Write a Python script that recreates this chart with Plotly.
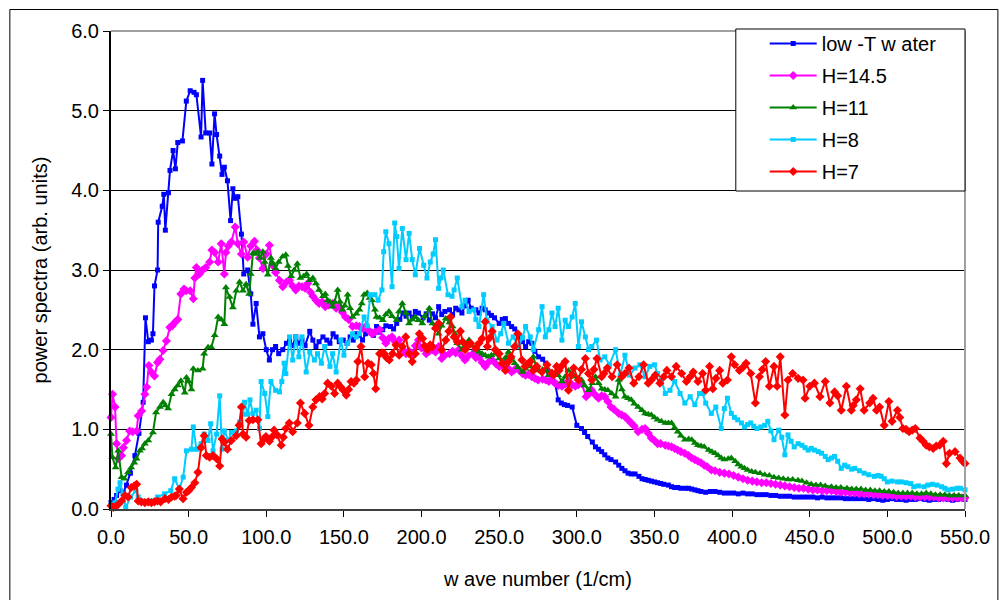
import plotly.graph_objects as go

# Power spectra vs wave number, (wave number [1/cm], power [arb. units]) pairs
low_t_water = [
    (0, 0.08), (2, 0.12), (3.6, 0.17), (5.8, 0.23), (8, 0.2), (10, 0.3), (12.5, 0.45), (15.4, 0.67),
    (18, 0.95), (20.7, 1.34), (22.2, 2.4), (24, 2.1), (26, 2.12), (27, 2.2), (28, 2.8), (30, 3.0),
    (30.4, 3.6), (33, 3.8), (34, 3.95), (35, 3.5), (37, 3.97), (38, 4.25), (40, 4.5), (41.5, 4.27),
    (43, 4.6), (46, 4.62), (48.5, 5.12), (51, 5.25), (53.5, 5.23), (55, 5.2), (58, 4.67), (59, 5.38),
    (61, 4.72), (63.5, 4.72), (65, 4.33), (66.7, 4.96), (68, 4.7), (70, 4.43), (71.5, 4.2), (73, 4.29),
    (75, 4.12), (77, 3.62), (78.5, 4.02), (80, 3.9), (81.7, 3.92), (84, 3.45), (85.5, 2.95), (88, 3.0),
    (90, 2.7), (91.4, 2.32), (93.5, 2.58), (95.6, 2.16), (97.8, 2.2), (100, 2.0), (102, 1.87), (104, 2.0),
    (106, 2.04), (108, 1.95), (110.6, 2.0), (113, 2.08), (115, 2.12), (117, 2.05), (119, 2.16), (121, 2.08),
    (123, 2.12), (125, 2.05), (128, 2.23), (130, 2.12), (132, 2.04), (134, 2.1), (136.5, 2.16), (139, 2.12),
    (141, 2.08), (143, 2.2), (145, 2.16), (147, 2.1), (149.6, 2.12), (152, 2.08), (154, 2.16), (156, 2.12),
    (158, 2.2), (160, 2.18), (162, 2.12), (164, 2.2), (167, 2.23), (169, 2.18), (171, 2.29), (173, 2.22),
    (175, 2.25), (177, 2.3), (180, 2.29), (182, 2.26), (184, 2.33), (186, 2.38), (188, 2.46), (190, 2.42),
    (192, 2.46), (194, 2.4), (196, 2.48), (198, 2.46), (201, 2.4), (203, 2.45), (205, 2.37), (207, 2.45),
    (209, 2.4), (211, 2.54), (213, 2.44), (215, 2.48), (218, 2.5), (220, 2.44), (222, 2.52), (224, 2.5),
    (226, 2.46), (228, 2.55), (230, 2.62), (232, 2.52), (235, 2.5), (237, 2.46), (239, 2.52), (241, 2.5),
    (243, 2.46), (245, 2.43), (247, 2.4), (250, 2.33), (252, 2.38), (254, 2.39), (256, 2.33), (258, 2.29),
    (260, 2.26), (263, 2.16), (265, 2.1), (267, 2.04), (269, 2.1), (271, 2.08), (273, 1.98), (275.4, 1.91),
    (278, 1.88), (280, 1.83), (282, 1.7), (284, 1.62), (286, 1.58), (288, 1.37), (290, 1.33), (292, 1.31),
    (294, 1.3), (297, 1.28), (300, 1.05), (303, 1.01), (305, 0.96), (307, 0.91), (310, 0.84), (312, 0.78),
    (314, 0.75), (316, 0.72), (318, 0.68), (320, 0.64), (322, 0.62), (325, 0.59), (327, 0.55), (329, 0.51),
    (331, 0.48), (333, 0.45), (335, 0.44), (337.5, 0.44), (340, 0.41), (342, 0.38), (344, 0.37), (346, 0.36),
    (348, 0.35), (350, 0.34), (352, 0.33), (354, 0.32), (356, 0.31), (359, 0.3), (361, 0.28), (363, 0.27),
    (365, 0.27), (367, 0.26), (370, 0.26), (372, 0.26), (374, 0.25), (376, 0.24), (378, 0.23), (380, 0.22),
    (383, 0.21), (386, 0.22), (389, 0.22), (392, 0.21), (395, 0.2), (398, 0.2), (401, 0.2), (404, 0.19),
    (407, 0.2), (410, 0.19), (413, 0.19), (416, 0.18), (419, 0.18), (422, 0.18), (425, 0.17), (428, 0.17),
    (431, 0.16), (434, 0.16), (437, 0.16), (440, 0.15), (443, 0.15), (446, 0.15), (449, 0.15), (452, 0.15),
    (455, 0.14), (458, 0.15), (461, 0.14), (464, 0.14), (467, 0.14), (470, 0.14), (473, 0.13), (476, 0.13),
    (479, 0.13), (482, 0.13), (485, 0.13), (488, 0.12), (491, 0.13), (494, 0.12), (497, 0.11), (500, 0.12),
    (503, 0.13), (506, 0.12), (509, 0.12), (512, 0.11), (515, 0.12), (518, 0.12), (521, 0.13), (524, 0.12),
    (527, 0.11), (530, 0.12), (533, 0.12), (536, 0.13), (539, 0.12), (542, 0.11), (545, 0.12), (548, 0.13),
    (550, 0.12),
]

h_14_5 = [
    (0, 1.15), (1, 1.44), (2.6, 1.28), (3.6, 0.82), (4.7, 0.63), (6.8, 0.67), (8, 0.77), (10, 0.86),
    (12, 0.98), (14, 0.97), (16.5, 0.98), (17.5, 1.17), (19.7, 1.23), (21.8, 1.44), (23, 1.53), (24.4, 1.8),
    (26, 1.72), (28, 1.67), (30, 1.84), (31.5, 1.88), (33.6, 1.99), (35.7, 2.11), (37.9, 2.28), (39.5, 2.3),
    (41, 2.34), (43, 2.38), (45, 2.7), (47, 2.76), (48.5, 2.74), (51, 2.74), (53, 2.64), (54, 2.9),
    (55, 3.03), (57, 2.95), (59, 3.0), (61, 3.03), (63.5, 3.1), (65, 3.25), (66.8, 3.22), (69, 3.1),
    (71, 3.33), (73, 2.95), (74, 3.22), (75.5, 3.3), (77.5, 3.35), (80, 3.54), (81.7, 3.33), (84, 3.2),
    (85.5, 3.35), (88, 3.16), (90, 3.3), (92.4, 3.36), (94, 3.25), (95.6, 3.15), (97.8, 3.02), (100, 3.2),
    (102, 3.31), (104, 3.06), (106, 2.97), (108.5, 2.87), (110.6, 2.79), (113, 2.85), (115, 2.87), (117, 2.8),
    (119, 2.75), (121, 2.8), (123, 2.79), (125, 2.77), (126.7, 2.83), (128.5, 2.72), (130, 2.67), (132, 2.62),
    (134, 2.58), (136, 2.6), (138, 2.54), (140, 2.56), (142.7, 2.58), (145, 2.52), (147, 2.54), (149, 2.47),
    (151, 2.41), (153, 2.38), (155.6, 2.29), (158, 2.3), (160, 2.29), (162, 2.27), (164, 2.29), (166, 2.24),
    (168, 2.2), (170, 2.22), (173, 2.25), (175, 2.15), (177, 2.08), (179, 2.14), (181, 2.16), (183, 2.1),
    (185.5, 2.12), (188, 2.0), (190, 1.95), (192, 1.98), (194, 1.95), (196, 2.05), (198, 2.12), (200, 2.02),
    (203, 1.95), (205, 1.98), (207, 2.0), (209, 1.97), (211, 2.04), (213, 1.89), (215, 1.93), (218, 1.95),
    (220, 1.98), (222, 1.96), (224, 2.0), (226, 1.92), (228, 1.87), (230, 1.92), (233, 1.95), (235, 1.9),
    (237, 1.91), (239, 1.84), (241, 1.79), (243, 1.84), (245.5, 1.87), (248, 1.82), (250, 1.79), (252, 1.8),
    (254, 1.83), (256, 1.76), (258, 1.72), (260, 1.75), (263, 1.74), (265, 1.7), (267, 1.68), (269, 1.69),
    (271, 1.66), (273, 1.64), (275, 1.62), (278, 1.63), (280, 1.62), (282, 1.6), (284, 1.62), (286, 1.58),
    (288, 1.55), (290.4, 1.54), (292.5, 1.57), (294.6, 1.6), (297, 1.56), (299, 1.54), (301, 1.56), (303, 1.58),
    (306, 1.41), (308, 1.45), (309.6, 1.49), (312, 1.43), (314, 1.39), (316, 1.42), (318, 1.41), (320, 1.35),
    (322, 1.28), (324, 1.25), (327, 1.2), (329, 1.18), (331, 1.16), (333, 1.12), (335, 1.08), (337, 1.04),
    (339.5, 0.97), (342, 1.0), (344, 1.01), (346, 0.95), (348, 0.89), (350, 0.86), (352, 0.82), (354, 0.82),
    (357, 0.8), (359, 0.79), (361, 0.78), (363, 0.76), (365, 0.74), (367, 0.72), (369.5, 0.7), (372, 0.67),
    (374, 0.64), (376, 0.62), (378, 0.6), (380, 0.58), (382, 0.55), (384, 0.53), (386.6, 0.49), (389, 0.48),
    (392, 0.46), (395, 0.45), (398, 0.44), (401, 0.42), (404, 0.4), (407, 0.38), (410, 0.36), (413, 0.35),
    (416, 0.34), (419, 0.33), (422, 0.33), (425, 0.32), (428, 0.31), (431, 0.3), (434, 0.29), (437, 0.28),
    (440, 0.27), (443, 0.26), (446, 0.26), (449, 0.25), (452, 0.24), (455, 0.24), (458, 0.23), (461, 0.23),
    (464, 0.23), (467, 0.22), (470, 0.21), (473, 0.21), (476, 0.2), (479, 0.2), (482, 0.19), (485, 0.19),
    (488, 0.19), (491, 0.18), (494, 0.18), (497, 0.17), (500, 0.17), (503, 0.17), (506, 0.16), (509, 0.16),
    (512, 0.16), (515, 0.16), (518, 0.15), (521, 0.15), (524, 0.15), (527, 0.15), (530, 0.15), (533, 0.14),
    (536, 0.14), (539, 0.14), (542, 0.14), (545, 0.14), (548, 0.14), (550, 0.14),
]

h_11 = [
    (0, 0.94), (0.9, 0.65), (3, 0.52), (4.7, 0.73), (6.8, 0.4), (8.5, 0.38), (11, 0.46), (13, 0.52),
    (15, 0.58), (16.5, 0.63), (18.6, 0.73), (20, 0.76), (21.8, 0.82), (24, 0.86), (27, 0.96), (29, 1.21),
    (31.5, 1.28), (33.6, 1.34), (35, 1.3), (36.8, 1.26), (39, 1.44), (41, 1.5), (43, 1.55), (45, 1.61),
    (47.5, 1.46), (48.6, 1.65), (50, 1.6), (51.8, 1.5), (53, 1.76), (56, 1.74), (59, 1.76), (60, 1.95),
    (62.5, 2.03), (64.6, 2.03), (66.8, 2.18), (69, 2.41), (71, 2.38), (73, 2.32), (74, 2.78), (76.4, 2.66),
    (78.5, 2.53), (80.7, 2.74), (82.8, 2.85), (85, 2.74), (87, 2.82), (89, 2.7), (90, 2.95), (91.4, 3.21),
    (92.5, 3.2), (94.6, 3.23), (96, 3.15), (97.8, 3.23), (99, 3.1), (101, 2.94), (103, 3.15), (104.5, 3.08),
    (106, 3.02), (108, 3.1), (110.6, 3.17), (112.6, 3.19), (114, 3.05), (116, 2.92), (118, 3.0), (120, 3.08),
    (122, 2.9), (124, 2.92), (126, 2.95), (128, 2.87), (130, 2.9), (132, 2.83), (134, 2.75), (136.5, 2.67),
    (138, 2.7), (139.5, 2.62), (141, 2.6), (142.7, 2.54), (144, 2.6), (146, 2.75), (147.5, 2.6), (149, 2.5),
    (150.5, 2.55), (152.4, 2.69), (154, 2.52), (155.6, 2.41), (158, 2.45), (160, 2.5), (161.5, 2.58), (163, 2.69),
    (165, 2.71), (166.5, 2.65), (168, 2.62), (170, 2.5), (171, 2.41), (173, 2.4), (175, 2.37), (177, 2.44),
    (179, 2.48), (181, 2.42), (184, 2.37), (185.5, 2.48), (187.6, 2.58), (190, 2.46), (192, 2.33), (194, 2.38),
    (196, 2.41), (198, 2.37), (200.5, 2.33), (202, 2.42), (205, 2.52), (207, 2.33), (209, 2.27), (211, 2.2),
    (213, 2.3), (215.6, 2.39), (218, 2.34), (220, 2.29), (221.5, 2.2), (223, 2.08), (226, 2.0), (228, 2.06),
    (230.6, 2.12), (233, 2.05), (235, 2.0), (237, 1.97), (239, 1.95), (241, 1.93), (243, 1.91), (245, 1.93),
    (247.5, 1.95), (250, 1.89), (252, 1.83), (254, 1.9), (256, 1.97), (258, 1.9), (260, 1.83), (262, 1.78),
    (265, 1.72), (267, 1.76), (269, 1.79), (272, 1.91), (273.7, 1.8), (275.4, 1.74), (278, 1.75), (280, 1.74),
    (282, 1.68), (284, 1.72), (286, 1.7), (288, 1.68), (290.4, 1.6), (292.5, 1.66), (294.6, 1.74), (297, 1.7),
    (299, 1.66), (301, 1.64), (303, 1.62), (305, 1.55), (307.6, 1.49), (310, 1.58), (312, 1.66), (314, 1.58),
    (316, 1.51), (318, 1.5), (320, 1.49), (322.5, 1.45), (325, 1.41), (327, 1.62), (329, 1.5), (331, 1.41),
    (333, 1.39), (335, 1.37), (337, 1.32), (339.5, 1.28), (342, 1.24), (344, 1.2), (346, 1.19), (348, 1.18),
    (350, 1.15), (352, 1.12), (354.5, 1.1), (357, 1.08), (359, 1.08), (361, 1.08), (363, 1.02), (365, 0.97),
    (367, 0.92), (369.6, 0.87), (372, 0.88), (374, 0.87), (376, 0.83), (378, 0.8), (380, 0.79), (382, 0.78),
    (385, 0.74), (387, 0.72), (389, 0.7), (391, 0.67), (393, 0.64), (395, 0.62), (397.5, 0.63), (399.5, 0.64),
    (402, 0.6), (404, 0.56), (406, 0.53), (408, 0.51), (410, 0.49), (412.6, 0.47), (415, 0.46), (418, 0.45),
    (421, 0.43), (424, 0.42), (427, 0.4), (430, 0.39), (433, 0.38), (436, 0.37), (439, 0.37), (442.5, 0.36),
    (445, 0.35), (448, 0.33), (451, 0.31), (454, 0.3), (457, 0.3), (460, 0.29), (464, 0.28), (467, 0.27),
    (470, 0.27), (474, 0.26), (477, 0.25), (480, 0.25), (483, 0.25), (486, 0.24), (489, 0.24), (492, 0.23),
    (495, 0.23), (498, 0.22), (501, 0.22), (504, 0.21), (507, 0.2), (510, 0.2), (513, 0.2), (516, 0.2),
    (519, 0.19), (522, 0.19), (525, 0.2), (528, 0.19), (531, 0.18), (534, 0.18), (537, 0.18), (540, 0.17),
    (543, 0.17), (546, 0.17), (550, 0.17),
]

h_8 = [
    (0, 0.06), (2.6, 0.08), (4.5, 0.25), (5.8, 0.33), (7.7, 0.19), (9.5, 0.02), (12.6, 0.15), (16, 0.23),
    (17.5, 0.15), (20.7, 0.1), (25, 0.1), (30, 0.15), (34.5, 0.19), (38.5, 0.23), (41, 0.38), (44, 0.25),
    (46.5, 0.4), (48.6, 0.73), (51.8, 0.75), (53, 1.03), (55, 0.75), (58, 0.82), (60, 0.94), (62.5, 0.86),
    (64.2, 1.07), (65.7, 0.73), (68, 0.94), (70, 1.42), (71.5, 0.75), (73, 0.98), (75.7, 0.86), (77.5, 0.96),
    (80.7, 0.98), (82.8, 1.09), (85, 1.19), (86, 1.34), (88, 1.19), (89.5, 1.37), (91.4, 1.2), (93.5, 1.24),
    (95.6, 1.01), (96.7, 1.6), (99, 1.45), (101, 1.16), (103, 1.6), (106, 1.49), (108.5, 1.47), (110, 1.6),
    (111.5, 1.83), (112.6, 1.7), (115, 2.16), (117, 1.87), (119, 2.16), (121, 1.91), (123, 2.16), (125.7, 1.72),
    (128, 1.97), (131, 1.87), (133, 1.95), (135.5, 1.83), (137.6, 2.04), (141, 1.79), (142.7, 1.95), (145, 1.72),
    (148, 2.12), (150, 1.93), (152.4, 2.08), (155.6, 2.2), (158, 2.16), (160, 2.2), (163, 2.41), (165, 2.3),
    (167, 2.69), (170, 2.69), (172, 2.62), (174.5, 2.75), (175.6, 3.23), (177, 3.48), (179, 3.33), (181, 2.79),
    (182.7, 3.59), (184, 3.42), (185.5, 3.02), (187.6, 3.52), (190, 3.13), (192, 3.46), (194, 3.13), (196, 2.94),
    (198.7, 3.27), (201.4, 3.06), (203.5, 2.9), (205.6, 3.1), (207.5, 3.2), (209, 3.38), (211, 2.77), (212.5, 2.9),
    (214, 3.0), (217, 2.69), (219.6, 2.67), (221, 2.75), (223, 2.9), (226, 2.54), (228, 2.62), (230.6, 2.48),
    (233.6, 2.5), (235, 2.38), (237, 2.29), (240, 2.69), (242, 2.37), (245.5, 2.29), (248.6, 2.12), (251, 2.2),
    (253, 2.33), (256, 2.08), (259, 2.16), (262.6, 2.04), (265, 2.15), (267, 2.29), (270, 2.16), (272, 2.0),
    (275.4, 2.25), (277.6, 2.54), (279.7, 2.16), (282, 2.25), (284, 2.46), (286, 2.29), (288, 2.52), (290.4, 2.12),
    (292.5, 2.37), (294.6, 2.29), (297, 2.41), (299, 2.58), (301, 2.04), (303, 2.35), (305.5, 2.16), (307.6, 2.0),
    (309.6, 2.04), (312.7, 2.12), (315, 1.87), (318, 1.91), (321, 1.81), (325, 2.0), (328, 1.68), (331, 1.93),
    (334, 1.68), (337.5, 1.77), (340.6, 1.81), (344, 1.66), (347, 1.79), (350, 1.81), (352, 1.7), (354.5, 1.62),
    (357, 1.45), (360, 1.49), (363, 1.6), (366.5, 1.45), (369.6, 1.33), (373, 1.41), (376, 1.31), (379, 1.45),
    (381, 1.45), (383, 1.33), (386.6, 1.2), (389.5, 1.28), (393, 1.01), (395, 1.26), (397, 1.39), (399.5, 1.2),
    (401.5, 1.15), (403.6, 1.12), (406, 1.08), (408, 1.03), (410, 1.06), (412, 1.08), (414, 1.04), (416, 1.01),
    (418.5, 1.03), (421, 1.05), (423, 1.1), (425, 0.98), (427, 0.87), (430, 0.99), (432, 0.9), (434, 0.68),
    (436, 0.93), (438, 0.85), (440, 0.78), (442.5, 0.82), (445, 0.8), (447, 0.77), (449, 0.74), (451, 0.76),
    (453, 0.74), (455.5, 0.72), (457.6, 0.7), (460, 0.66), (461.8, 0.62), (464, 0.64), (466, 0.66), (468, 0.6),
    (470.3, 0.51), (472.5, 0.55), (474.6, 0.53), (477, 0.5), (479, 0.51), (482, 0.48), (485, 0.45), (488, 0.43),
    (491.6, 0.41), (494, 0.42), (496, 0.41), (498, 0.38), (500, 0.34), (503, 0.35), (506.5, 0.34), (509, 0.34),
    (512, 0.33), (515, 0.32), (517, 0.28), (520, 0.29), (523.6, 0.28), (526, 0.3), (529, 0.31), (532, 0.3),
    (535, 0.28), (537, 0.26), (539, 0.24), (542, 0.25), (545, 0.26), (547, 0.26), (550, 0.24),
]

h_7 = [
    (0, 0.04), (1.5, 0.02), (3, 0.03), (4.7, 0.06), (6.8, 0.1), (9, 0.17), (11, 0.15), (13, 0.27),
    (15, 0.29), (16.5, 0.31), (17.5, 0.1), (19.5, 0.09), (21.8, 0.08), (24, 0.09), (26, 0.08), (28, 0.09),
    (30, 0.1), (32, 0.09), (34.7, 0.13), (37, 0.12), (39, 0.15), (41, 0.16), (42, 0.17), (44, 0.25),
    (46.4, 0.13), (48.6, 0.21), (50, 0.23), (51.8, 0.27), (54, 0.33), (56, 0.46), (58, 0.77), (60, 0.92),
    (61.4, 0.67), (63.5, 0.65), (65.7, 0.67), (68, 0.63), (70, 0.54), (71.5, 0.88), (73, 0.84), (75, 0.75),
    (77.5, 0.86), (80.7, 0.92), (82.5, 1.05), (84, 1.28), (85, 0.94), (87, 0.9), (89, 1.11), (91.4, 1.12),
    (94.6, 1.12), (96.7, 0.82), (98.5, 0.88), (99.8, 0.91), (102, 0.85), (103.5, 0.9), (105, 0.99), (107, 0.93),
    (109.6, 0.8), (111, 0.9), (112.6, 1.01), (114.8, 1.08), (117, 0.97), (120, 1.08), (122, 1.33), (124.7, 1.2),
    (127.5, 1.05), (130, 1.28), (132, 1.37), (134.3, 1.41), (136, 1.38), (137.6, 1.45), (139.5, 1.58), (142, 1.54),
    (144, 1.45), (146, 1.58), (148, 1.53), (149.6, 1.49), (151.5, 1.43), (153, 1.5), (154.6, 1.6), (156.5, 1.58),
    (158, 1.62), (159, 1.85), (161, 2.04), (163.4, 1.66), (165.5, 1.83), (167.6, 1.81), (169, 1.7), (170.5, 1.51),
    (173, 1.95), (174.5, 1.96), (176, 1.95), (177.5, 1.9), (179.2, 1.87), (181.3, 1.95), (183.5, 2.06), (185.6, 1.93),
    (187.6, 2.04), (189.8, 2.16), (192, 1.95), (194, 1.85), (196, 1.95), (198.6, 2.2), (200.7, 2.14), (202, 2.05),
    (203.7, 2.0), (205.5, 2.06), (207, 2.04), (209, 2.27), (211, 2.33), (213, 2.0), (215.6, 2.12), (217.6, 2.23),
    (218.7, 2.41), (221, 2.16), (223, 2.1), (225, 2.23), (226.5, 2.1), (228, 2.0), (230, 2.05), (231.6, 2.08),
    (235, 2.02), (237, 2.08), (239, 2.14), (241, 2.35), (242.4, 2.04), (244, 2.15), (245.5, 2.23), (247.5, 2.0),
    (250, 1.95), (252, 1.83), (254, 1.74), (256, 1.85), (257.6, 1.91), (260, 2.04), (262, 2.2), (264.6, 1.87),
    (266.6, 1.79), (268, 1.82), (270, 1.85), (272, 1.74), (274.3, 1.79), (277.5, 1.72), (280.8, 1.81), (284, 1.7),
    (285, 1.68), (287, 1.79), (288.5, 1.74), (290.5, 1.8), (292.5, 1.85), (294.6, 1.49), (296.5, 1.68), (298, 1.77),
    (301, 1.62), (303, 1.75), (305.5, 1.89), (307.5, 1.7), (309.6, 1.62), (311, 1.75), (313, 1.89), (316, 1.66),
    (317.5, 1.7), (319.6, 1.77), (322.7, 1.66), (326, 1.81), (329, 1.66), (331, 1.7), (333.6, 1.77), (336.7, 1.58),
    (340, 1.66), (343, 1.81), (346, 1.58), (348, 1.62), (350.5, 1.68), (353.5, 1.58), (356, 1.66), (358, 1.74),
    (361, 1.66), (364, 1.79), (367.5, 1.7), (370.6, 1.6), (373, 1.66), (375, 1.72), (378, 1.6), (381, 1.7),
    (383, 1.49), (385.5, 1.79), (387.6, 1.51), (389.6, 1.64), (392, 1.74), (394, 1.58), (397, 1.62), (399.5, 1.91),
    (401.6, 1.81), (404.7, 1.74), (407, 1.78), (409, 1.83), (412, 1.7), (415, 1.33), (417.6, 1.66), (419.5, 1.75),
    (421.6, 1.85), (424, 1.54), (427, 1.79), (429, 1.54), (431, 1.91), (434, 1.18), (436, 1.62), (439, 1.7),
    (442.5, 1.64), (445.7, 1.62), (447, 1.39), (450, 1.54), (453, 1.58), (456.6, 1.41), (460, 1.6), (463, 1.33),
    (466, 1.47), (468, 1.42), (470.3, 1.24), (473.6, 1.54), (476.8, 1.24), (478, 1.3), (480, 1.37), (482.5, 1.51),
    (485, 1.24), (488.6, 1.33), (490.8, 1.39), (493, 1.24), (495, 1.28), (498, 1.05), (501, 1.35), (503, 1.1),
    (506.5, 1.24), (508, 1.15), (510, 1.01), (512, 1.0), (514, 0.97), (516, 0.99), (518, 1.01), (521, 0.89),
    (523, 0.85), (525, 0.8), (527, 0.78), (529.5, 0.76), (531.5, 0.79), (533.7, 0.8), (536, 0.85), (538, 0.57),
    (540, 0.7), (543.6, 0.72), (546.8, 0.64), (548.5, 0.6), (550, 0.57),
]

series_names = ["low -T w ater", "H=14.5", "H=11", "H=8", "H=7"]
series_data = [low_t_water, h_14_5, h_11, h_8, h_7]
series_colors = ["#0000FF", "#FF00FF", "#008000", "#00CCFF", "#FF0000"]
series_symbols = ["square", "diamond", "triangle-up", "square", "diamond"]
series_marker_sizes = [5, 7, 7, 5, 7]

x_ticks = [0, 50, 100, 150, 200, 250, 300, 350, 400, 450, 500, 550]
y_ticks = [0, 1, 2, 3, 4, 5, 6]

FONT = "Liberation Sans, Arial, sans-serif"
FS = 20
W, H = 1002, 600
L, R, T, B = 111, 34, 31, 91
PW, PH = W - L - R, H - T - B


def px_x(p):
    return (p - L) / PW


def px_y(p):
    return (H - B - p) / PH


fig = go.Figure()
for i, (name, data, color, sym, size) in enumerate(
        zip(series_names, series_data, series_colors, series_symbols, series_marker_sizes)):
    xs = [p[0] for p in data]
    ys = [p[1] for p in data]
    fig.add_trace(go.Scatter(
        x=xs, y=ys, name=name, mode="lines+markers",
        line=dict(color=color, width=2),
        marker=dict(color=color, symbol=sym, size=size, line=dict(width=0)),
        legendgroup=f"g{i}", cliponaxis=False,
    ))

fig.update_layout(
    width=W, height=H,
    margin=dict(l=L, r=R, t=T, b=B, pad=0),
    paper_bgcolor="white", plot_bgcolor="white",
    font=dict(family=FONT, size=FS, color="black"),
    showlegend=True,
    legend=dict(
        x=px_x(767), xanchor="left", y=px_y(24), yanchor="top",
        bgcolor="rgba(0,0,0,0)", borderwidth=0,
        font=dict(family=FONT, size=FS, color="black"),
        tracegroupgap=3, itemwidth=47,
    ),
    xaxis=dict(
        range=[0, 550], tickvals=x_ticks, tickformat=".1f",
        showgrid=False, zeroline=False,
        showline=True, linecolor="#404040", linewidth=2,
        ticks="outside", ticklen=6, tickcolor="black", tickwidth=1,
        ticklabelstandoff=3,
        tickfont=dict(family=FONT, size=FS),
        title=dict(text="w ave number (1/cm)", font=dict(family=FONT, size=FS), standoff=25),
    ),
    yaxis=dict(
        range=[0, 6], tickvals=y_ticks, tickformat=".1f",
        showgrid=True, gridcolor="black", gridwidth=1, zeroline=False,
        showline=True, linecolor="black", linewidth=2,
        ticks="outside", ticklen=6, tickcolor="black", tickwidth=1,
        tickfont=dict(family=FONT, size=FS),
        title=dict(text="power spectra (arb. units)", font=dict(family=FONT, size=FS), standoff=18),
    ),
    shapes=[
        # plot-area frame (top and right edges)
        dict(type="line", xref="paper", yref="paper", x0=0, x1=1, y0=1, y1=1,
             line=dict(color="#A0A0A0", width=2), layer="above"),
        dict(type="line", xref="paper", yref="paper", x0=1, x1=1, y0=0, y1=1,
             line=dict(color="#A0A0A0", width=2), layer="above"),
        # legend frame
        dict(type="rect", xref="paper", yref="paper",
             x0=px_x(738), x1=px_x(968), y0=px_y(191), y1=px_y(29),
             line=dict(color="black", width=1), fillcolor="white", layer="above"),
        # chart-area border
        dict(type="rect", xref="paper", yref="paper",
             x0=px_x(9.5), x1=px_x(1001), y0=px_y(640), y1=px_y(9.5),
             line=dict(color="black", width=1), fillcolor="rgba(0,0,0,0)", layer="above"),
    ],
)

fig.write_html("out.html")
